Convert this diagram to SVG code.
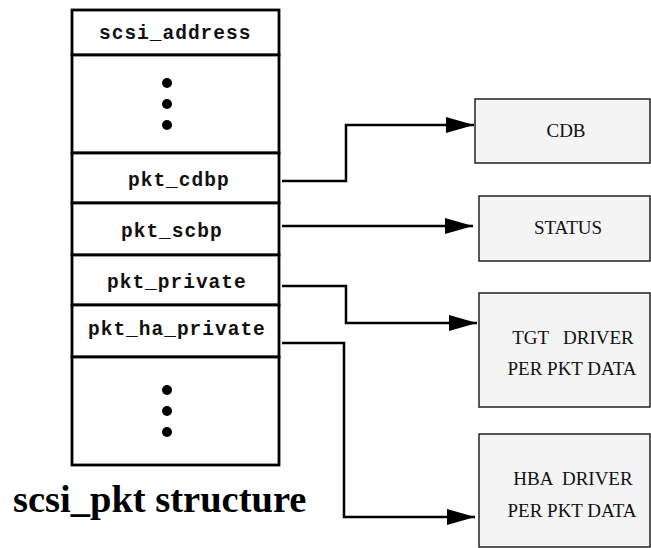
<svg xmlns="http://www.w3.org/2000/svg" width="651" height="548" viewBox="0 0 651 548">
<style>
.fld{fill:#fff;stroke:#000;stroke-width:2.8}
.mono{font-family:"Liberation Mono","Courier New",monospace;font-weight:bold;font-size:19.5px;letter-spacing:1px;fill:#111}
.box{fill:#f4f4f4;stroke:#222;stroke-width:1.5}
.lbl{font-family:"Liberation Serif","Times New Roman",serif;font-size:19px;fill:#111;text-anchor:middle}
.conn{fill:none;stroke:#000;stroke-width:2.5}
.title{font-family:"Liberation Serif","Times New Roman",serif;font-weight:bold;font-size:38.5px;fill:#000}
</style>
<defs>
<marker id="arr" markerUnits="userSpaceOnUse" markerWidth="28" markerHeight="16" refX="28" refY="8" orient="auto">
<path d="M0,0 L28,8 L0,16 Z" fill="#000"/>
</marker>
</defs>
<g id="scsi_pkt">
<g id="f_scsi_address"><rect class="fld" x="72" y="10" width="207" height="45"/><text class="mono" x="99" y="39">scsi_address</text></g>
<g id="f_dots1"><rect class="fld" x="72" y="55" width="207" height="98"/><circle cx="167" cy="83" r="5"/><circle cx="167" cy="104" r="5"/><circle cx="167" cy="125" r="5"/></g>
<g id="f_pkt_cdbp"><rect class="fld" x="72" y="153" width="207" height="50"/><text class="mono" x="128" y="186">pkt_cdbp</text></g>
<g id="f_pkt_scbp"><rect class="fld" x="72" y="203" width="207" height="52"/><text class="mono" x="121" y="237">pkt_scbp</text></g>
<g id="f_pkt_private"><rect class="fld" x="72" y="255" width="207" height="50"/><text class="mono" x="107" y="288">pkt_private</text></g>
<g id="f_pkt_ha_private"><rect class="fld" x="72" y="305" width="207" height="52"/><text class="mono" x="88" y="335">pkt_ha_private</text></g>
<g id="f_dots2"><rect class="fld" x="72" y="357" width="207" height="108"/><circle cx="167" cy="390" r="5"/><circle cx="167" cy="411" r="5"/><circle cx="167" cy="432" r="5"/></g>
<text class="title" x="13" y="512">scsi_pkt structure</text>
</g>
<g id="cdb"><rect class="box" x="475" y="99" width="175" height="64"/><text class="lbl" x="566" y="137">CDB</text></g>
<g id="status"><rect class="box" x="479" y="196" width="171" height="65"/><text class="lbl" x="568" y="234">STATUS</text></g>
<g id="tgt"><rect class="box" x="479" y="293" width="171" height="114"/><text class="lbl" x="573" y="344" xml:space="preserve">TGT   DRIVER</text><text class="lbl" x="572" y="375">PER PKT DATA</text></g>
<g id="hba"><rect class="box" x="479" y="434" width="171" height="113"/><text class="lbl" x="573" y="485" xml:space="preserve">HBA  DRIVER</text><text class="lbl" x="572" y="517">PER PKT DATA</text></g>
<g id="connectors">
<path class="conn" marker-end="url(#arr)" d="M282,181 H346 V125 H474"/>
<path class="conn" marker-end="url(#arr)" d="M282,226 H473"/>
<path class="conn" marker-end="url(#arr)" d="M282,286 H346 V323 H477"/>
<path class="conn" marker-end="url(#arr)" d="M282,343 H344 V517 H475"/>
</g>
</svg>
